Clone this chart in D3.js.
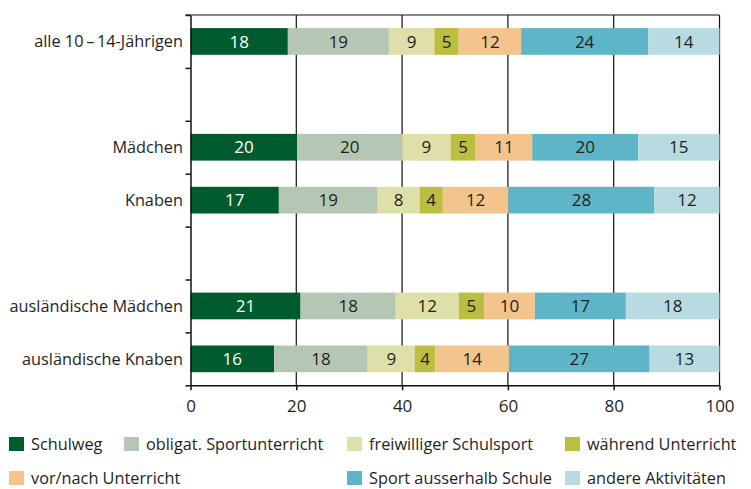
<!DOCTYPE html>
<html>
<head>
<meta charset="utf-8">
<script src="https://cdn.jsdelivr.net/npm/d3@7"></script>
<style>
  body { margin: 0; background: #fff; }
  svg { display: block; font-family: "Open Sans", sans-serif; }
  .cat-label, .legend-label { font-size: 16.3px; fill: #1e1e1e; }
  .value-label { font-size: 17px; }
  .x-axis text { font-size: 17px; fill: #1e1e1e; font-family: "Open Sans", sans-serif; }
</style>
</head>
<body>
<svg id="chart"></svg>
<script>
const svg = d3.select("#chart");
const width = 751;
const height = 489;
svg.attr("width", width).attr("height", height);

// Categories of activity (stack order, left → right)
const seriesNames = [
    "Schulweg",
    "obligat. Sportunterricht",
    "freiwilliger Schulsport",
    "während Unterricht",
    "vor/nach Unterricht",
    "Sport ausserhalb Schule",
    "andere Aktivitäten"
];
const seriesColors = ["#005c2f", "#b6c6b4", "#dfdfaa", "#bdbe40", "#f3c48c", "#5fb5c8", "#b8dbe2"];

// Shares in % per group (labels show rounded values)
const alleWerte = [18.4, 19.1, 8.6, 4.6, 11.8, 24.0, 13.5];
const maedchenWerte = [20.2, 19.8, 9.2, 4.7, 10.7, 20.0, 15.4];
const knabenWerte = [16.7, 18.7, 7.9, 4.4, 12.4, 27.6, 12.3];
const auslMaedchenWerte = [20.8, 18.0, 11.9, 4.8, 9.6, 17.2, 17.7];
const auslKnabenWerte = [15.8, 17.7, 8.9, 3.9, 13.9, 26.6, 13.2];

const rowLabels = ["alle 10\u2009\u2013\u200914-Jährigen", "", "Mädchen", "Knaben", "", "ausländische Mädchen", "ausländische Knaben"];
const rowValues = [alleWerte, null, maedchenWerte, knabenWerte, null, auslMaedchenWerte, auslKnabenWerte];

const xTicks = [0, 20, 40, 60, 80, 100];

const plot = { left: 190.5, right: 719.5, top: 15, bottom: 385.3 };

const x = d3.scaleLinear().domain([0, 100]).range([plot.left, plot.right]);
const y = d3.scaleBand().domain(d3.range(rowLabels.length)).range([plot.top, plot.bottom]).padding(0);
const yEdges = d3.scaleLinear().domain([0, rowLabels.length]).range([plot.top, plot.bottom]);
const barH = y.bandwidth() * 0.505;
const barOff = (y.bandwidth() - barH) / 2;

// gridlines
svg.append("g")
    .selectAll("line")
    .data(xTicks.filter((t) => t > 0))
    .join("line")
    .attr("x1", (d) => x(d))
    .attr("x2", (d) => x(d))
    .attr("y1", plot.top)
    .attr("y2", plot.bottom)
    .attr("stroke", "#111")
    .attr("stroke-width", 1.2);

// top border
svg.append("line")
    .attr("x1", plot.left - 5)
    .attr("x2", plot.right)
    .attr("y1", plot.top)
    .attr("y2", plot.top)
    .attr("stroke", "#111")
    .attr("stroke-width", 1.2);

// stacked bars
const rows = rowValues
    .map((vals, i) => ({ i, vals }))
    .filter((r) => r.vals);

const rowG = svg.append("g")
    .selectAll("g")
    .data(rows)
    .join("g")
    .attr("transform", (r) => `translate(0,${y(r.i) + barOff})`);

const segs = rowG.selectAll("g.seg")
    .data((r) => {
        let acc = 0;
        return r.vals.map((v, k) => {
            const s = { k, v, x0: acc, x1: acc + v };
            acc += v;
            return s;
        });
    })
    .join("g")
    .attr("class", "seg");

segs.append("rect")
    .attr("x", (d) => x(d.x0))
    .attr("width", (d) => x(d.x1) - x(d.x0))
    .attr("y", 0)
    .attr("height", barH)
    .attr("fill", (d) => seriesColors[d.k]);

segs.append("text")
    .attr("class", "value-label")
    .attr("x", (d) => (x(d.x0) + x(d.x1)) / 2)
    .attr("y", barH / 2)
    .attr("dy", "0.36em")
    .attr("text-anchor", "middle")
    .attr("fill", (d) => (d.k === 0 ? "#fff" : "#1e1e1e"))
    .text((d) => Math.round(d.v));

// y axis with ticks at band edges
svg.append("g")
    .attr("transform", `translate(${plot.left},0)`)
    .call(d3.axisLeft(yEdges).tickValues(d3.range(rowLabels.length + 1)).tickFormat("").tickSize(5).tickSizeOuter(0))
    .call((g) => g.selectAll("path, line").attr("stroke", "#111").attr("stroke-width", 1.5));

// category labels
svg.append("g")
    .selectAll("text")
    .data(rowLabels.map((l, i) => ({ l, i })).filter((d) => d.l))
    .join("text")
    .attr("class", "cat-label")
    .attr("x", 183)
    .attr("y", (d) => y(d.i) + y.bandwidth() / 2)
    .attr("dy", "0.36em")
    .attr("text-anchor", "end")
    .text((d) => d.l);

// x axis
svg.append("g")
    .attr("class", "x-axis")
    .attr("transform", `translate(0,${plot.bottom})`)
    .call(d3.axisBottom(x).tickValues(xTicks).tickSize(5).tickSizeOuter(0).tickPadding(10))
    .call((g) => g.selectAll("path, line").attr("stroke", "#111").attr("stroke-width", 1.5));

// legend
const legendCols = [9, 124, 347, 565];
const legendRows = [437, 471];
const legendSlots = [[0, 0], [0, 1], [0, 2], [0, 3], [1, 0], [1, 2], [1, 3]];

const legend = svg.append("g")
    .selectAll("g")
    .data(seriesNames.map((n, k) => ({ n, k })))
    .join("g")
    .attr("transform", (d) => `translate(${legendCols[legendSlots[d.k][1]]},${legendRows[legendSlots[d.k][0]]})`);

legend.append("rect")
    .attr("width", 15)
    .attr("height", 14)
    .attr("fill", (d) => seriesColors[d.k]);

legend.append("text")
    .attr("class", "legend-label")
    .attr("x", 22)
    .attr("y", 7)
    .attr("dy", "0.36em")
    .text((d) => d.n);
</script>
</body>
</html>
